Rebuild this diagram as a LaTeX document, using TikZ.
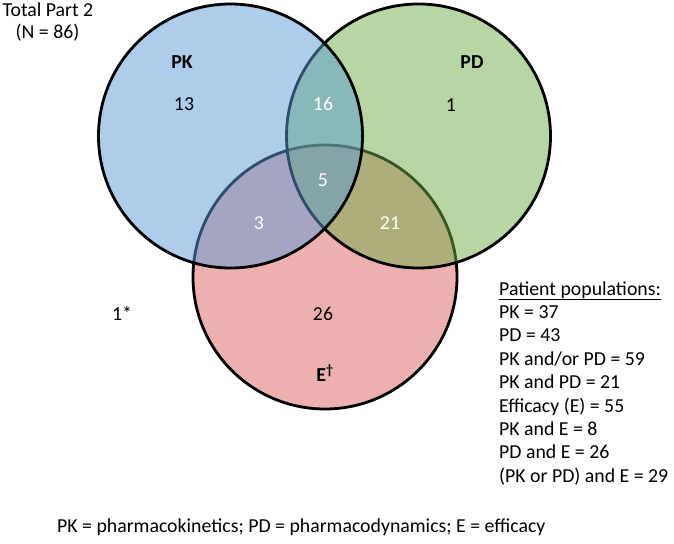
\documentclass[tikz,border=0pt]{standalone}
\usepackage{fontspec}
\setmainfont{Carlito}
\usetikzlibrary{positioning}

\definecolor{pkblue}{RGB}{91,155,213}
\definecolor{pdgreen}{RGB}{112,173,71}
\definecolor{ered}{RGB}{217,97,97}

\begin{document}
\begin{tikzpicture}[x=1pt,y=-1pt,
  setcircle/.style={draw=black, line width=2.8pt, fill opacity=0.5},
  lbl/.style={font=\fontsize{19.8}{23.4}\selectfont, inner sep=0pt, anchor=base},
  inlbl/.style={lbl, text=white},
  setname/.style={lbl, font=\fontsize{19.8}{23.4}\selectfont\bfseries}]
\useasboundingbox (0,0) rectangle (674,543);
% the three sets, each fill laid over the earlier outlines
\path[setcircle, fill=ered]    (325,277) circle (132pt);
\path[setcircle, fill=pdgreen] (418.5,136) circle (132pt);
\path[setcircle, fill=pkblue]  (230.5,136) circle (132pt);
\node[lbl] (total) at (48,16.7) {Total Part 2};
\node[lbl] (totaln) at (47.5,39) {(N = 86)};
\node[setname] (pk) at (182,68.3) {PK};
\node[setname] (pd) at (472,68.3) {PD};
\node[setname] (eff) at (325,381.7) {E\textsuperscript{\textdagger}};
\node[lbl] (onlypk) at (184,110.7) {13};
\node[lbl] (onlypd) at (451,111) {1};
\node[lbl] (onlye) at (323,320) {26};
\node[inlbl] (pkpd) at (323,110.7) {16};
\node[inlbl] (all) at (323,186.7) {5};
\node[inlbl] (pke) at (259,229) {3};
\node[inlbl] (pde) at (390,229) {21};
\node[lbl] (none) at (122,320) {1*};
% patient populations
\node[lbl, anchor=base west] (pophead) at (499,295) {\underline{Patient populations:}};
\foreach \txt [count=\i] in {{PK = 37},{PD = 43},{PK and/or PD = 59},{PK and PD = 21},
    {Efficacy (E) = 55},{PK and E = 8},{PD and E = 26},{(PK or PD) and E = 29}}
  \node[lbl, anchor=base west] (pop\i) at (499,{295+23.4*\i}) {\txt};
\node[lbl, anchor=base west] (abbrev) at (57,532) {PK = pharmacokinetics; PD = pharmacodynamics; E = efficacy};
\end{tikzpicture}
\end{document}
